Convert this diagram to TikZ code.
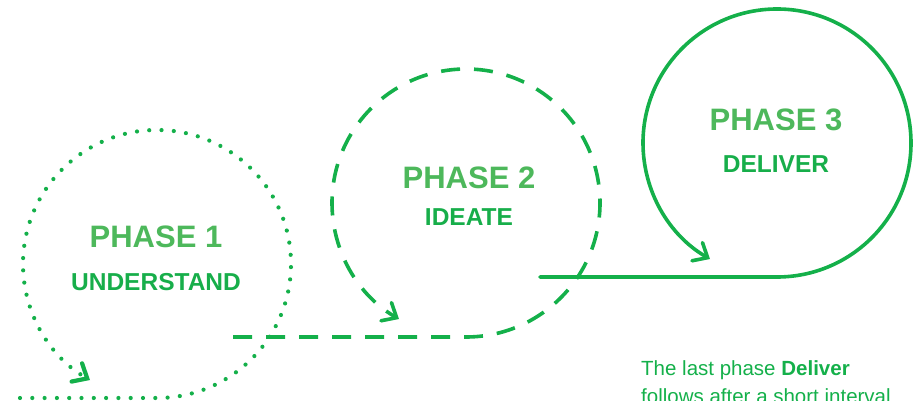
\documentclass[tikz,border=0pt]{standalone}
\usepackage{fontspec}
\setmainfont{Liberation Sans}
\usetikzlibrary{arrows.meta}
\definecolor{lineg}{HTML}{14B04A}
\definecolor{phaseg}{HTML}{4DB85B}
\definecolor{subg}{HTML}{17AE4A}
\begin{document}
\begin{tikzpicture}[x=1pt,y=1pt,
  loop/.style={draw=lineg, line width=3.6pt, line cap=round,
    -{Straight Barb[length=12pt,width=21pt,line cap=round]}},
  dotloop/.style={loop, line width=4.2pt, dash pattern=on 0pt off 12.3pt},
  dashloop/.style={loop, line cap=butt, dash pattern=on 19pt off 14pt},
  phasetxt/.style={inner sep=0pt, text=phaseg, font=\bfseries\fontsize{31}{31}\selectfont},
  subtxt/.style={inner sep=0pt, text=subg, font=\bfseries\fontsize{24.5}{24.5}\selectfont},
  bodytxt/.style={inner sep=0pt, text=lineg, font=\fontsize{20.5}{28}\selectfont, anchor=base west}
]
\useasboundingbox (0,0) rectangle (919,401);
% centres and start points
\coordinate (c1) at (157,137);
\coordinate (c2) at (466,198.5);
\coordinate (c3) at (777,258);
\coordinate (s1) at (20,3);
\coordinate (s2) at (233,64);
\coordinate (s3) at (540,124);
% loops
\draw[dotloop] (s1) -- (s1 -| c1) arc[start angle=-90, end angle=240, radius=134];
\draw[dashloop] (s2) -- (s2 -| c2) arc[start angle=-90, end angle=240, radius=134];
\draw[loop] (s3) -- (s3 -| c3) arc[start angle=-90, end angle=240, radius=134];
% labels
\node[phasetxt] (p1) at (156,164.5) {PHASE 1};
\node[subtxt] (u1) at (156,119.3) {UNDERSTAND};
\node[phasetxt] (p2) at (469,222.7) {PHASE 2};
\node[subtxt] (u2) at (469,183.7) {IDEATE};
\node[phasetxt] (p3) at (776,281.5) {PHASE 3};
\node[subtxt] (u3) at (776,237) {DELIVER};
\node[bodytxt] (t1) at (641,25) {The last phase \textbf{Deliver}};
\node[bodytxt] (t2) at (641,-3) {follows after a short interval};
\end{tikzpicture}
\end{document}
